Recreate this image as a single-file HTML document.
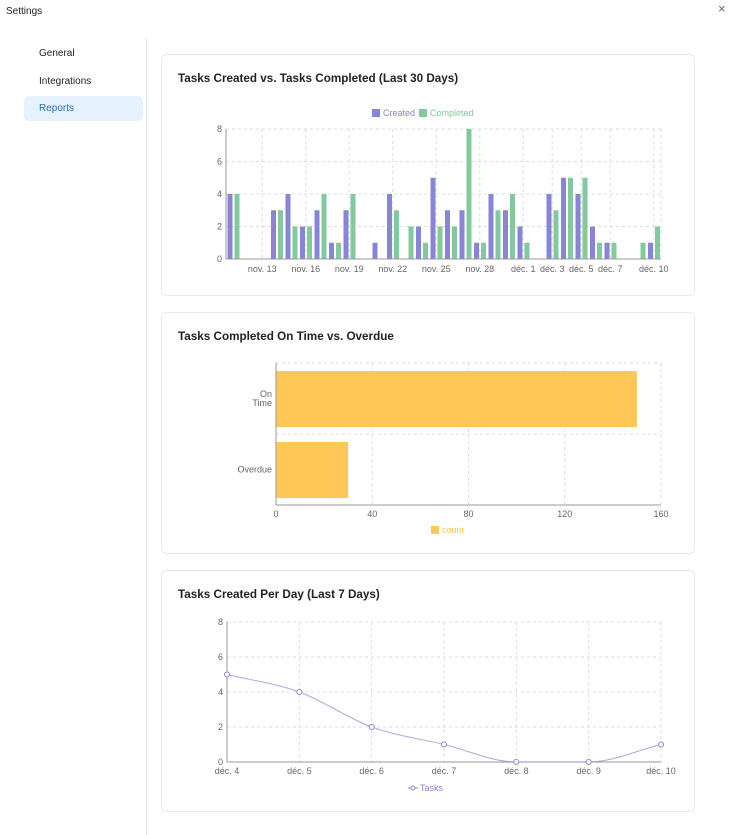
<!DOCTYPE html>
<html><head><meta charset="utf-8">
<style>
body{margin:0;width:730px;height:835px;background:#fff;font-family:"Liberation Sans",sans-serif;position:relative;overflow:hidden;color:#222}
.abs{position:absolute}
.nav{position:absolute;left:24px;width:119px;height:25px;font-size:10px;line-height:25px;padding-left:15px;box-sizing:border-box;color:#222;border-radius:5px}
.card{position:absolute;left:161px;width:534px;height:242px;border:1px solid #e8e8e8;border-radius:5px;box-sizing:border-box}
.title{position:absolute;left:16px;top:17px;font-size:11.7px;font-weight:bold;color:#222}
svg{position:absolute;left:0;top:0}
svg text{font-family:"Liberation Sans",sans-serif;font-size:9px;fill:#666}
</style></head><body>
<div class="abs" style="left:6px;top:6px;font-size:10px;">Settings</div>
<div class="abs" style="left:718px;top:1px;font-size:13px;color:#666;">×</div>
<div class="nav" style="top:41px">General</div>
<div class="nav" style="top:69px">Integrations</div>
<div class="nav" style="top:96px;background:#e5f2fd;color:#2f6fc0">Reports</div>
<div class="abs" style="left:146px;top:38px;width:1px;height:797px;background:#e8e8e8"></div>

<div class="card" style="top:54px"><div class="title">Tasks Created vs. Tasks Completed (Last 30 Days)</div></div>
<div class="card" style="top:312px"><div class="title">Tasks Completed On Time vs. Overdue</div></div>
<div class="card" style="top:570px"><div class="title">Tasks Created Per Day (Last 7 Days)</div></div>

<svg id="s" width="730" height="835"></svg>
<script>
const days=["nov. 11","nov. 12","nov. 13","nov. 14","nov. 15","nov. 16","nov. 17","nov. 18","nov. 19","nov. 20","nov. 21","nov. 22","nov. 23","nov. 24","nov. 25","nov. 26","nov. 27","nov. 28","nov. 29","nov. 30","déc. 1","déc. 2","déc. 3","déc. 4","déc. 5","déc. 6","déc. 7","déc. 8","déc. 9","déc. 10"];
const created=[4,0,0,3,4,2,3,1,3,0,1,4,0,2,5,3,3,1,4,3,2,0,4,5,4,2,1,0,0,1];
const completed=[4,0,0,3,2,2,4,1,4,0,0,3,2,1,2,2,8,1,3,4,1,0,3,5,5,1,1,0,1,2];
const dayTicks=["nov. 13","nov. 16","nov. 19","nov. 22","nov. 25","nov. 28","déc. 1","déc. 3","déc. 5","déc. 7","déc. 10"];
const yTicks=[0,2,4,6,8];
const statusCats=["On Time","Overdue"];
const statusCounts=[150,30];
const countTicks=[0,40,80,120,160];
const weekDays=["déc. 4","déc. 5","déc. 6","déc. 7","déc. 8","déc. 9","déc. 10"];
const weekTasks=[5,4,2,1,0,0,1];

const S=document.getElementById('s');
function el(t,a,txt){const e=document.createElementNS('http://www.w3.org/2000/svg',t);for(const k in a)e.setAttribute(k,a[k]);if(txt!=null)e.textContent=txt;S.appendChild(e);return e;}
const grid={stroke:'#ddd','stroke-dasharray':'3 3','stroke-width':1,fill:'none'};

// Chart 1
{const L=226,R=661,T=129,B=259,bw=(R-L)/days.length;
const x=i=>L+i*bw, y=v=>B-(v/8)*(B-T);
yTicks.forEach(v=>{const g=el('line',Object.assign({x1:L,x2:R,y1:y(v),y2:y(v)},grid));
const t=el('text',{x:L-4,y:y(v)+3,'text-anchor':'end'},v);});
el('line',Object.assign({x1:R,x2:R,y1:T,y2:B},grid));
dayTicks.forEach(d=>{const i=days.indexOf(d),cx=x(i)+bw/2;
const g=el('line',Object.assign({x1:cx,x2:cx,y1:T,y2:B},grid));
const t=el('text',{x:cx,y:B+13,'text-anchor':'middle'},d);});
days.forEach((d,i)=>{
 const b1=el('rect',{x:x(i)+1.5,y:y(created[i]),width:5,height:B-y(created[i]),fill:'#8884d8'});
 
 const b2=el('rect',{x:x(i)+8.5,y:y(completed[i]),width:5,height:B-y(completed[i]),fill:'#82ca9d'});
 });
el('line',{x1:L,x2:L,y1:T,y2:B,stroke:'#999'});el('line',{x1:L,x2:R,y1:B,y2:B,stroke:'#999'});
let r=el('rect',{x:372,y:109,width:8,height:8,fill:'#8884d8'});
el('text',{x:383,y:116,style:'fill:#8884d8'},'Created');
r=el('rect',{x:419,y:109,width:8,height:8,fill:'#82ca9d'});
el('text',{x:430,y:116,style:'fill:#82ca9d'},'Completed');}

// Chart 2
{const L=276,R=661,T=363,B=505,bh=(B-T)/statusCats.length;
const x=v=>L+(v/160)*(R-L);
countTicks.forEach(v=>{const g=el('line',Object.assign({x1:x(v),x2:x(v),y1:T,y2:B},grid));
const t=el('text',{x:x(v),y:B+12,'text-anchor':'middle'},v);});
[0,1,2].forEach(i=>el('line',Object.assign({x1:L,x2:R,y1:T+i*bh,y2:T+i*bh},grid)));
statusCats.forEach((c,i)=>{const b=el('rect',{x:L,y:T+i*bh+8,width:x(statusCounts[i])-L,height:bh-15,fill:'#ffc658'});

const cy=T+i*bh+bh/2;const w=c.split(' ');
w.forEach((p,j)=>el('text',{x:L-4,y:cy+3+(j-(w.length-1)/2)*9,'text-anchor':'end'},p));});
el('line',{x1:L,x2:L,y1:T,y2:B,stroke:'#999'});el('line',{x1:L,x2:R,y1:B,y2:B,stroke:'#999'});
const r=el('rect',{x:431,y:526,width:8,height:8,fill:'#ffc658'});
el('text',{x:442,y:533,style:'fill:#ffc658'},'count');}

// Chart 3
{const L=227,R=661,T=622,B=762,st=(R-L)/(weekDays.length-1);
const x=i=>L+i*st,y=v=>B-(v/8)*(B-T);
yTicks.forEach(v=>{el('line',Object.assign({x1:L,x2:R,y1:y(v),y2:y(v)},grid));
const t=el('text',{x:L-4,y:y(v)+3,'text-anchor':'end'},v);});
weekDays.forEach((d,i)=>{el('line',Object.assign({x1:x(i),x2:x(i),y1:T,y2:B},grid));
const t=el('text',{x:x(i),y:B+12,'text-anchor':'middle'},d);});
el('line',{x1:L,x2:L,y1:T,y2:B,stroke:'#999'});el('line',{x1:L,x2:R,y1:B,y2:B,stroke:'#999'});
const px=weekDays.map((d,i)=>x(i)),py=weekTasks.map(v=>y(v)),n=px.length;
const s=[],m=[];for(let i=0;i<n-1;i++)s.push((py[i+1]-py[i])/(px[i+1]-px[i]));
m[0]=s[0];m[n-1]=s[n-2];for(let i=1;i<n-1;i++){m[i]=(s[i-1]*s[i]<=0)?0:(s[i-1]+s[i])/2;}
for(let i=0;i<n-1;i++){if(s[i]===0){m[i]=0;m[i+1]=0;}else{const a=m[i]/s[i],b=m[i+1]/s[i],h=a*a+b*b;if(h>9){const t=3/Math.sqrt(h);m[i]=t*a*s[i];m[i+1]=t*b*s[i];}}}
let dd='M'+px[0]+','+py[0];for(let i=0;i<n-1;i++){const h=(px[i+1]-px[i])/3;dd+=` C${px[i]+h},${py[i]+m[i]*h} ${px[i+1]-h},${py[i+1]-m[i+1]*h} ${px[i+1]},${py[i+1]}`;}
const p=el('path',{d:dd,fill:'none',stroke:'#8884d8','stroke-opacity':0.7,'stroke-width':1});
weekTasks.forEach((v,i)=>{const c=el('circle',{cx:x(i),cy:y(v),r:2.5,fill:'#fff',stroke:'#8884d8'});});
el('line',{x1:408,x2:418,y1:788,y2:788,stroke:'#8884d8'});
const c=el('circle',{cx:413,cy:788,r:2,fill:'#fff',stroke:'#8884d8'});
el('text',{x:420,y:791,style:'fill:#8884d8'},'Tasks');}
</script>
</body></html>
